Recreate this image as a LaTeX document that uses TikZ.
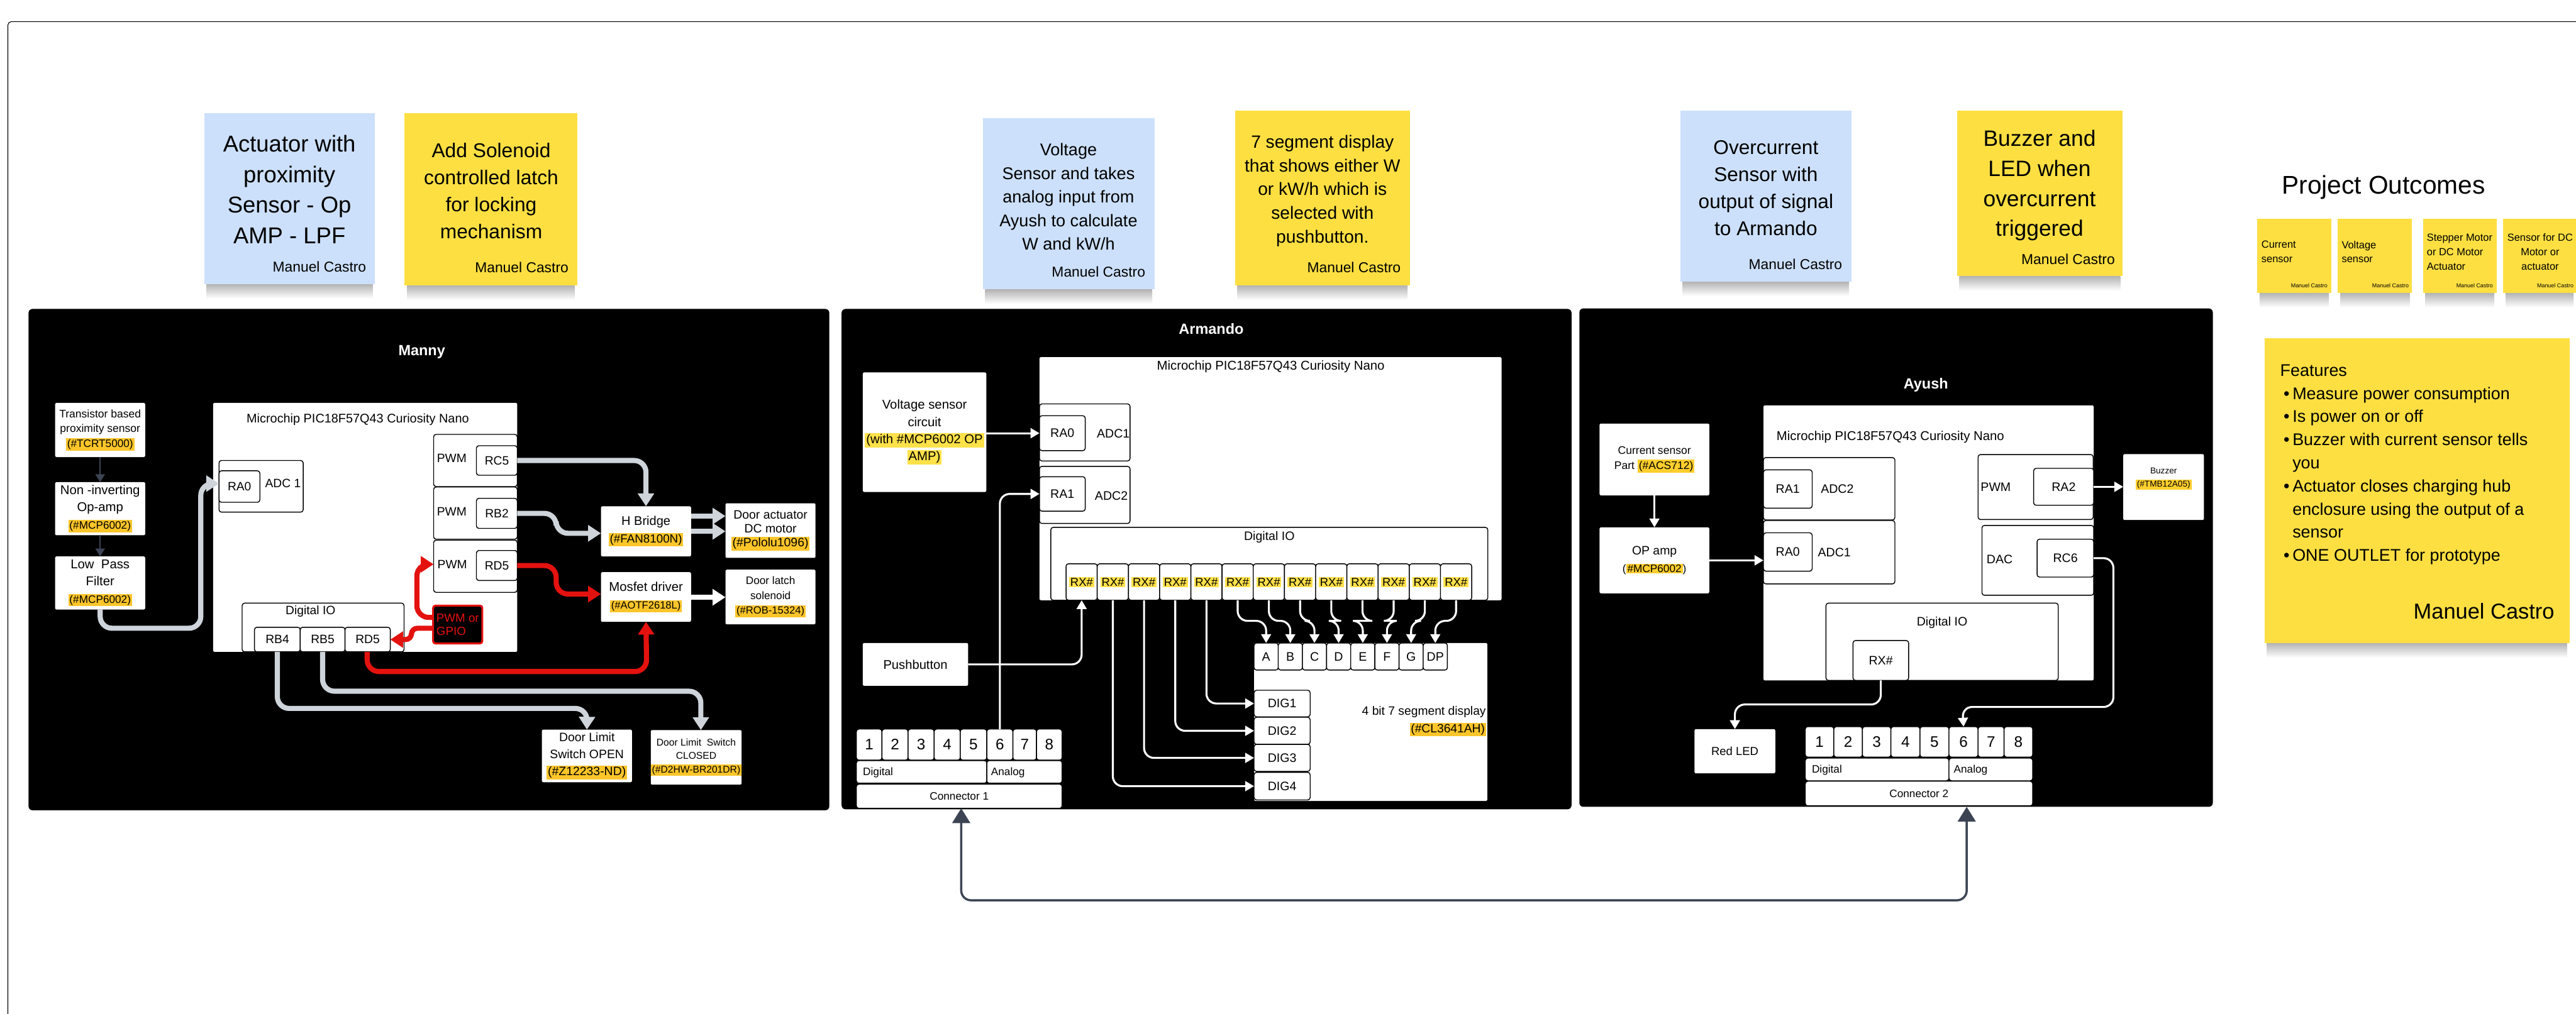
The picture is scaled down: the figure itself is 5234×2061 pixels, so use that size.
\documentclass[tikz,border=0pt]{standalone}
\usepackage{fontspec}
\setmainfont{Liberation Sans}
\usetikzlibrary{arrows.meta,calc}
\definecolor{hlm}{HTML}{FCC52A}
\definecolor{hla}{HTML}{FFE14A}
\definecolor{hlb}{HTML}{FFCF2E}
\definecolor{stickyY}{HTML}{FDDF42}
\definecolor{stickyB}{HTML}{CCE0FB}
\definecolor{wire}{HTML}{CED4DA}
\definecolor{dwire}{HTML}{3C4454}
\definecolor{redw}{HTML}{E3120F}
\newcommand{\fz}[2]{\fontsize{#1pt}{#2pt}\selectfont}
\setlength{\fboxsep}{1.2pt}
\newcommand{\hlm}[1]{\colorbox{hlm}{#1}}
\newcommand{\hla}[1]{\colorbox{hla}{#1}}
\newcommand{\hlb}[1]{\colorbox{hlb}{#1}}
\newcommand{\bx}[7][]{\node[inner sep=0pt,outer sep=0pt,minimum width={((#5)-(#3))*0.5pt},minimum height={((#6)-(#4))*0.5pt},align=center,#1] (#2) at ({((#3)+(#5))/2},{((#4)+(#6))/2}) {#7};}
\newcommand{\lb}[5][]{\node[inner sep=0pt,outer sep=0pt,align=center,#1] (#2) at (#3,#4) {#5};}
\newcommand{\sticky}[6]{\shade[top color=black!30,bottom color=white] ({#3+5},#6) rectangle ({#5-5},{#6+30});
 \bx[fill=#1]{#2}{#3}{#4}{#5}{#6}{}}
\newcommand{\mc}[3]{\node[inner sep=0pt,outer sep=0pt,anchor=east,font=\fz{14.6}{16}] (#1) at (#2,#3) {Manuel Castro};}
\newcommand{\mcs}[3]{\node[inner sep=0pt,outer sep=0pt,anchor=east,font=\fz{5.7}{7}] (#1) at (#2,#3) {Manuel Castro};}
\newcommand{\bl}{\makebox[12.5pt][r]{•\hspace{3pt}}}
\tikzset{
 wbox/.style={fill=white,rounded corners=1.5pt},
 pin/.style={fill=white,draw=black,line width=0.9pt,rounded corners=2.5pt},
 f125/.style={font=\fz{12.5}{15}},
 conn/.style={rounded corners=12pt,line width=5.2pt},
 gw/.style={conn,draw=wire,-{Triangle[length=13pt,width=16pt]}},
 rw/.style={conn,draw=redw,-{Triangle[length=13pt,width=16pt]}},
 ww/.style={conn,draw=white,-{Triangle[length=13pt,width=16pt]}},
 dk/.style={draw=dwire,line width=1.5pt,-{Triangle[length=8pt,width=9.5pt]}},
 tw/.style={draw=white,line width=2pt,rounded corners=10pt,-{Triangle[length=9pt,width=10pt]}},
 bus/.style={draw=dwire,line width=2.2pt,rounded corners=10pt,{Triangle[length=15pt,width=18pt]}-{Triangle[length=15pt,width=18pt]}},
}
\begin{document}
\begin{tikzpicture}[x=0.5pt,y=-0.5pt]
\useasboundingbox (0,0) rectangle (5234,2061);
\fill[white] (0,0) rectangle (5234,2061);
\draw[draw=black,line width=0.7pt,rounded corners=3.5pt] (16,2070) -- (16,44) -- (5250,44);

% sticky notes
\sticky{stickyB}{s1}{415}{230}{762}{577}
\lb[font=\fz{23.3}{31}]{s1t}{588}{385}{Actuator with\\proximity\\Sensor - Op\\AMP - LPF}
\mc{s1m}{744}{542}
\sticky{stickyY}{s2}{822}{230}{1173}{580}
\lb[font=\fz{20.3}{27.3}]{s2t}{998}{388}{Add Solenoid\\controlled latch\\for locking\\mechanism}
\mc{s2m}{1155}{544}
\sticky{stickyB}{s3}{1997}{240}{2346}{588}
\lb[font=\fz{17.3}{24}]{s3t}{2171}{400}{Voltage\\Sensor and takes\\analog input from\\Ayush to calculate\\W and kW/h}
\mc{s3m}{2327}{552}
\sticky{stickyY}{s4}{2509}{225}{2865}{580}
\lb[font=\fz{18}{24.2}]{s4t}{2687}{388}{7 segment display\\that shows either W\\or kW/h which is\\selected with\\pushbutton.}
\mc{s4m}{2846}{543}
\sticky{stickyB}{s5}{3414}{225}{3762}{572}
\lb[font=\fz{20.2}{27.5}]{s5t}{3588}{382}{Overcurrent\\Sensor with\\output of signal\\to Armando}
\mc{s5m}{3743}{537}
\sticky{stickyY}{s6}{3976}{225}{4313}{561}
\lb[font=\fz{22.6}{30.5}]{s6t}{4144}{377}{Buzzer and\\LED when\\overcurrent\\triggered}
\mc{s6m}{4297}{527}

% project outcomes
\lb[font=\fz{26}{30}]{po}{4843}{381}{Project Outcomes}
\sticky{stickyY}{o1}{4586}{445}{4737}{595}
\lb[anchor=west,align=left,font=\fz{10.5}{14.5}]{o1t}{4595}{512}{Current\\sensor}
\mcs{o1m}{4729}{580}
\sticky{stickyY}{o2}{4750}{445}{4901}{595}
\lb[anchor=west,align=left,font=\fz{10.5}{14.5}]{o2t}{4758}{512}{Voltage\\sensor}
\mcs{o2m}{4894}{580}
\sticky{stickyY}{o3}{4923}{445}{5073}{595}
\lb[anchor=west,align=left,font=\fz{10.5}{14.5}]{o3t}{4931}{512}{Stepper Motor\\or DC Motor\\Actuator}
\mcs{o3m}{5065}{580}
\sticky{stickyY}{o4}{5086}{445}{5234}{595}
\lb[font=\fz{10.5}{14.5}]{o4t}{5161}{512}{Sensor for DC\\Motor or\\actuator}
\mcs{o4m}{5229}{580}
\sticky{stickyY}{o5}{4601}{687}{5221}{1307}
\lb[anchor=north west,align=left,font=\fz{17.2}{23.5}]{o5t}{4633}{741}{Features\\\bl Measure power consumption\\\bl Is power on or off\\\bl Buzzer with current sensor tells\\\hspace*{12.5pt}you\\\bl Actuator closes charging hub\\\hspace*{12.5pt}enclosure using the output of a\\\hspace*{12.5pt}sensor\\\bl ONE OUTLET for prototype}
\lb[anchor=east,font=\fz{22}{26}]{o5m}{5190}{1242}{Manuel Castro}

% ===== panels
\bx[fill=black,rounded corners=4pt]{pm}{58}{628}{1685}{1647}{}
\bx[fill=black,rounded corners=4pt]{pa}{1710}{628}{3193}{1645}{}
\bx[fill=black,rounded corners=4pt]{pb}{3209}{627}{4496}{1640}{}

% ===== Manny
\lb[text=white,font=\bfseries\fz{15}{18}]{mt}{857}{715}{Manny}
\bx[wbox,font=\fz{11.2}{15}]{tcrt}{112}{819}{295}{929}{Transistor based\\proximity sensor\\{\fz{11}{15}\hlm{(\#TCRT5000)}}}
\bx[wbox,font=\fz{13}{17.5}]{ninv}{112}{980}{295}{1088}{Non -inverting\\Op-amp\\{\fz{11}{17.5}\hlm{(\#MCP6002)}}}
\bx[wbox,font=\fz{13}{17.5}]{lpf}{112}{1131}{295}{1239}{Low\ \ Pass\\Filter\\{\fz{11}{17.5}\hlm{(\#MCP6002)}}}
\bx[wbox]{mcum}{433}{819}{1051}{1325}{}
\lb[font=\fz{12.7}{15}]{mmt}{727}{853}{Microchip PIC18F57Q43 Curiosity Nano}
\bx[pin]{madc}{445}{936}{616}{1041}{}
\bx[pin,font=\fz{12.3}{15}]{mra0}{445}{957}{528}{1021}{RA0}
\lb[font=\fz{12.3}{15}]{madct}{575}{983}{ADC 1}
\bx[pin]{pwm1}{881}{883}{1051}{989}{}
\bx[pin,font=\fz{12.3}{15}]{rc5}{968}{906}{1051}{966}{RC5}
\lb[font=\fz{12.3}{15}]{pwm1t}{918}{932}{PWM}
\bx[pin]{pwm2}{881}{990}{1051}{1096}{}
\bx[pin,font=\fz{12.3}{15}]{rb2}{968}{1013}{1051}{1074}{RB2}
\lb[font=\fz{12.3}{15}]{pwm2t}{918}{1040}{PWM}
\bx[pin]{pwm3}{881}{1098}{1051}{1204}{}
\bx[pin,font=\fz{12.3}{15}]{rd5p}{968}{1119}{1051}{1180}{RD5}
\lb[font=\fz{12.3}{15}]{pwm3t}{919}{1147}{PWM}
\bx[pin]{dio}{492}{1226}{821}{1325}{}
\lb[font=\fz{12.3}{15}]{diot}{631}{1243}{Digital IO}
\bx[pin,font=\fz{12.3}{15}]{rb4}{517}{1275}{610}{1325}{RB4}
\bx[pin,font=\fz{12.3}{15}]{rb5}{610}{1275}{701}{1325}{RB5}
\bx[pin,font=\fz{12.3}{15}]{rd5d}{701}{1275}{793}{1325}{RD5}
\bx[fill=black,draw=redw,line width=2pt,rounded corners=2.5pt,text=redw,align=left,font=\fz{12}{13.5}]{gpio}{880}{1231}{980}{1308}{PWM or\\GPIO}
\bx[wbox,font=\fz{12.8}{17.5}]{hb}{1221}{1029}{1404}{1131}{H Bridge\\{\fz{12}{17.5}\hlm{(\#FAN8100N)}}}
\bx[wbox,font=\fz{12.4}{14}]{act}{1474}{1023}{1657}{1134}{Door actuator\\DC motor\\\hlm{(\#Pololu1096)}}
\bx[wbox,font=\fz{13}{18}]{mos}{1221}{1163}{1404}{1264}{Mosfet driver\\{\fz{10.6}{18}\hlm{(\#AOTF2618L)}}}
\bx[wbox,font=\fz{11}{15}]{sol}{1474}{1158}{1657}{1269}{Door latch\\solenoid\\{\fz{10.6}{15}\hlm{(\#ROB-15324)}}}
\bx[wbox,font=\fz{12.4}{17.5}]{lopen}{1101}{1483}{1284}{1590}{Door Limit\\Switch OPEN\\\hlm{(\#Z12233-ND)}}
\bx[wbox,font=\fz{10}{13.5}]{lclosed}{1323}{1484}{1506}{1595}{Door Limit\ \ Switch\\CLOSED\\\hlm{(\#D2HW-BR201DR)}}

\draw[dk] (tcrt.south) -- (ninv.north);
\draw[dk] (ninv.south) -- (lpf.north);
\draw[gw] (lpf.south) |- (408,1277) |- ([yshift=3pt]mra0.west);
\draw[gw] (rc5.east) -| (hb.north);
\draw[gw] (rb2.east) -- ++(79,0) |- ([yshift=-2pt]hb.west);
\draw[gw,rounded corners=0pt] (hb.east |- 0,1049) -- (act.west |- 0,1049);
\draw[gw,rounded corners=0pt] (hb.east |- 0,1080) -- (act.west |- 0,1080);
\draw[ww] (mos.east |- 0,1214) -- (sol.west |- 0,1214);
\draw[rw] (rd5p.east) -- ++(79,0) |- ([yshift=3pt]mos.west);
\draw[rw] (rd5d.south -| 746,0) |- (1314,1365) -- (mos.south);
\draw[gw] (rb4.south) |- (1193,1440) -- (lopen.north);
\draw[gw] (rb5.south) |- (1424,1405) -- (lclosed.north -| 1424,0);
\draw[rw] (gpio.west |- 0,1255) -| (847,1200) |- (pwm3.west |- 0,1147);
\draw[rw,rounded corners=6pt] (gpio.west |- 0,1277) -- (836,1277) |- (rd5d.east);

% ===== Armando
\lb[text=white,font=\bfseries\fz{15}{18}]{at}{2461}{668}{Armando}
\bx[wbox,font=\fz{13}{17.5}]{volt}{1753}{757}{2004}{1000}{Voltage sensor\\circuit\\\hla{(with \#MCP6002 OP}\\\hla{AMP)}}
\bx[wbox]{mcua}{2112}{726}{3051}{1220}{}
\lb[font=\fz{13}{15}]{mat}{2582}{745}{Microchip PIC18F57Q43 Curiosity Nano}
\bx[pin]{adc1a}{2112}{821}{2296}{937}{}
\bx[pin,f125]{ra0a}{2112}{845}{2205}{916}{RA0}
\lb[f125]{adc1at}{2262}{881}{ADC1}
\bx[pin]{adc2a}{2112}{948}{2296}{1064}{}
\bx[pin,f125]{ra1a}{2112}{969}{2205}{1039}{RA1}
\lb[f125]{adc2at}{2258}{1008}{ADC2}
\bx[pin]{dioa}{2135}{1072}{3023}{1220}{}
\lb[f125]{dioat}{2579}{1092}{Digital IO}
\foreach \i in {1,...,13}{
 \bx[pin,font=\fz{11.8}{14}]{rx\i}{2166+63.4*(\i-1)}{1146}{2166+63.4*\i}{1220}{\hla{RX\#}}
}
\bx[wbox,font=\fz{12.9}{15}]{push}{1753}{1307}{1967}{1394}{Pushbutton}
\bx[wbox]{disp}{2548}{1307}{3022}{1628}{}
\lb[anchor=east,align=right,font=\fz{12.3}{17.5}]{dispt}{3019}{1466}{4 bit 7 segment display\\{\setlength{\fboxsep}{1pt}\colorbox{hlm}{(\#CL3641AH)}}}
\foreach \i/\t in {1/A,2/B,3/C,4/D,5/E,6/F,7/G,8/DP}{
 \bx[pin,f125]{seg\i}{2548+49.1*(\i-1)}{1307}{2548+49.1*\i}{1362}{\t}
}
\bx[pin,f125]{dig1}{2548}{1403}{2662}{1457}{DIG1}
\bx[pin,f125]{dig2}{2548}{1458}{2662}{1513}{DIG2}
\bx[pin,f125]{dig3}{2548}{1513}{2662}{1568}{DIG3}
\bx[pin,f125]{dig4}{2548}{1570}{2662}{1626}{DIG4}
\foreach \i/\a/\b in {1/1740/1792,2/1792/1845,3/1845/1898,4/1898/1951,5/1951/2005,6/2005/2058,7/2058/2106,8/2106/2158}{
 \bx[pin,font=\fz{15.5}{17}]{ca\i}{\a}{1482}{\b}{1545}{\i}
}
\bx[pin]{cadig}{1740}{1546}{2005}{1592}{}
\bx[pin]{caana}{2005}{1546}{2158}{1592}{}
\lb[font=\fz{11}{13}]{cadigt}{1784}{1570}{Digital}
\lb[font=\fz{11}{13}]{caanat}{2048}{1570}{Analog}
\bx[pin,font=\fz{11}{13}]{cac}{1740}{1594}{2158}{1643}{Connector 1}

\draw[tw] (volt.east |- ra0a.west) -- (ra0a.west);
\draw[tw] (ca6.north) |- (ra1a.west);
\draw[tw] (push.east) -| (rx1.south);
\draw[tw] (rx2.south) |- (dig4.west);
\draw[tw] (rx3.south) |- (dig3.west);
\draw[tw] (rx4.south) |- (dig2.west);
\draw[tw] (rx5.south) |- (dig1.west);
\foreach \i/\j in {6/1,7/2,8/3,9/4,10/5,11/6,12/7,13/8}{
 \draw[tw] (rx\i.south) -- (rx\i.south |- 0,1262) -| (seg\j.north);
}

% ===== Ayush
\lb[text=white,font=\bfseries\fz{15}{18}]{bt}{3913}{783}{Ayush}
\bx[wbox,font=\fz{11.2}{15}]{curr}{3250}{861}{3473}{1007}{Current sensor\\Part \hlb{(\#ACS712)}}
\bx[wbox,font=\fz{12.4}{18}]{opa}{3250}{1072}{3473}{1206}{OP amp\\{\fz{11}{18}(\hlb{\#MCP6002})}}
\bx[wbox]{mcub}{3583}{824}{4254}{1383}{}
\lb[font=\fz{13}{15}]{mbt}{3841}{888}{Microchip PIC18F57Q43 Curiosity Nano}
\bx[pin]{adc2b}{3583}{930}{3850}{1057}{}
\bx[pin,f125]{ra1b}{3583}{955}{3682}{1033}{RA1}
\lb[f125]{adc2bt}{3733}{994}{ADC2}
\bx[pin]{adc1b}{3583}{1058}{3850}{1187}{}
\bx[pin,f125]{ra0b}{3583}{1083}{3682}{1161}{RA0}
\lb[f125]{adc1bt}{3727}{1123}{ADC1}
\bx[pin]{pwmb}{4019}{924}{4253}{1056}{}
\bx[pin,f125]{ra2}{4132}{952}{4254}{1027}{RA2}
\lb[f125]{pwmbt}{4055}{990}{PWM}
\bx[pin]{dac}{4027}{1068}{4254}{1210}{}
\bx[pin,f125]{rc6}{4139}{1096}{4254}{1173}{RC6}
\lb[f125]{dact}{4063}{1137}{DAC}
\bx[pin]{diob}{3710}{1226}{4182}{1383}{}
\lb[f125]{diobt}{3946}{1265}{Digital IO}
\bx[pin,f125]{rxb}{3765}{1302}{3878}{1383}{RX\#}
\bx[wbox]{buz}{4314}{923}{4478}{1057}{}
\lb[font=\fz{8.7}{13.5}]{buzt}{4396}{973}{Buzzer\\\hlb{(\#TMB12A05)}}
\bx[wbox,font=\fz{11.8}{14}]{led}{3443}{1482}{3607}{1572}{Red LED}
\foreach \i/\a/\b in {1/3668/3726,2/3726/3784,3/3784/3842,4/3842/3901,5/3901/3960,6/3960/4019,7/4019/4072,8/4072/4130}{
 \bx[pin,font=\fz{15.5}{17}]{cb\i}{\a}{1477}{\b}{1539}{\i}
}
\bx[pin]{cbdig}{3668}{1541}{3960}{1587}{}
\bx[pin]{cbana}{3960}{1541}{4130}{1587}{}
\lb[font=\fz{11}{13}]{cbdigt}{3712}{1565}{Digital}
\lb[font=\fz{11}{13}]{cbanat}{4004}{1565}{Analog}
\bx[pin,font=\fz{11}{13}]{cbc}{3668}{1588}{4130}{1638}{Connector 2}

\draw[tw] (curr.south) -- (opa.north);
\draw[tw] (opa.east) -- (ra0b.west |- opa.east);
\draw[tw] (ra2.east) -- (buz.west |- ra2.east);
\draw[tw] (rc6.east) -- (4294,1134.5) |- (3987,1437) -- (cb6.north);
\draw[tw] (rxb.south) |- (3525,1432) -- (led.north);

% connector between boards
\draw[bus] ([xshift=2pt]cac.south) |- (2950,1830) -| ([xshift=48.5pt,yshift=-1pt]cbc.south);
\end{tikzpicture}
\end{document}
